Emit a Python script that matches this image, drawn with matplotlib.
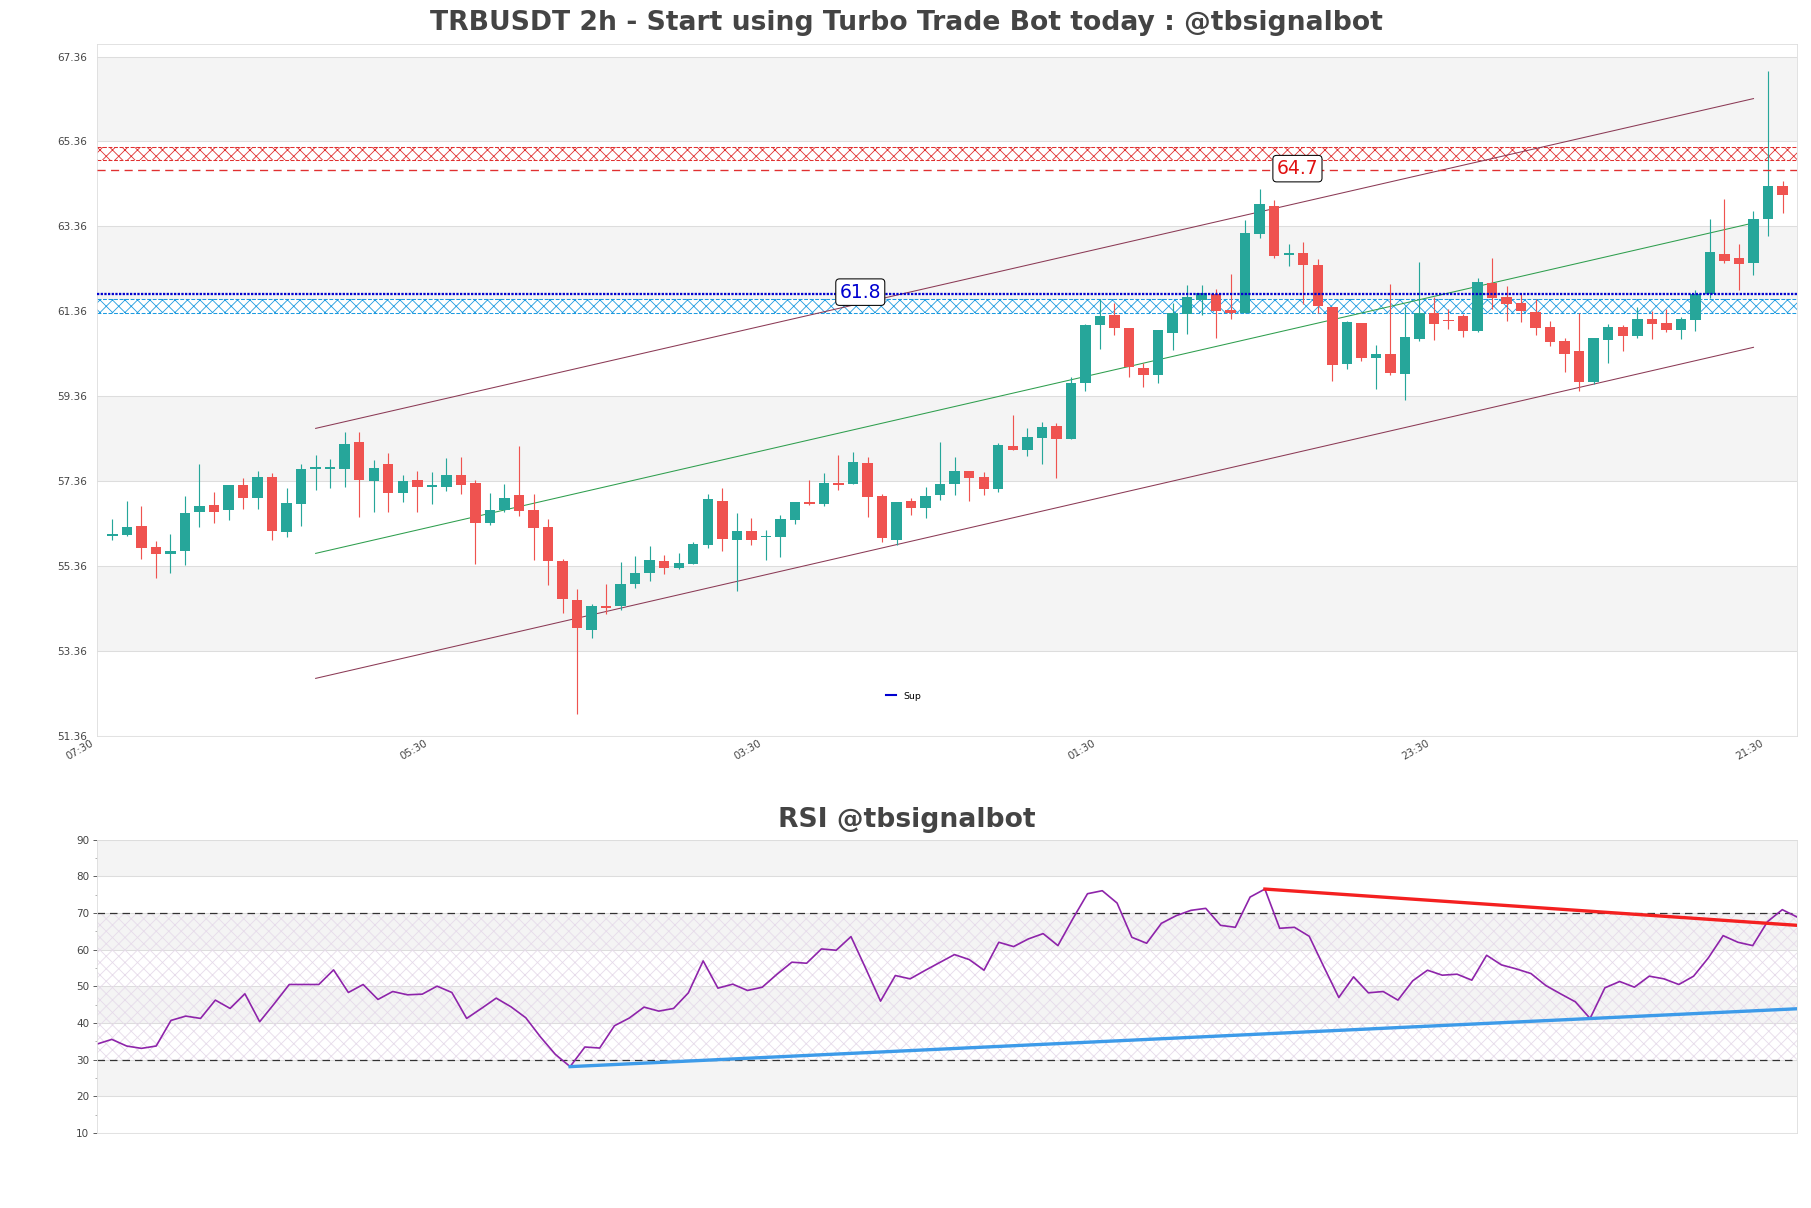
import matplotlib
matplotlib.use("Agg")
import matplotlib.pyplot as plt
import matplotlib.transforms as mtransforms
from matplotlib.lines import Line2D
from matplotlib.ticker import MultipleLocator

# candles, 2h
opens = [56.07, 56.08, 56.30, 55.81, 55.65, 55.70, 56.62, 56.79, 56.67, 57.27,
         56.95, 57.45, 56.15, 56.83, 57.64, 57.65, 57.64, 58.27, 57.35, 57.75,
         57.07, 57.39, 57.21, 57.23, 57.50, 57.31, 56.38, 56.68, 57.03, 56.68,
         56.28, 55.48, 54.56, 53.86, 54.42, 54.42, 54.94, 55.19, 55.47, 55.32,
         55.41, 55.86, 56.89, 55.98, 56.18, 56.03, 56.05, 56.45, 56.87, 56.82,
         57.32, 57.30, 57.79, 57.00, 55.98, 56.88, 56.73, 57.02, 57.28, 57.60,
         57.46, 57.17, 58.19, 58.10, 58.38, 58.66, 58.36, 59.66, 61.03, 61.27,
         60.96, 60.03, 59.86, 60.85, 61.30, 61.63, 61.77, 61.38, 61.31, 63.17,
         63.85, 62.69, 62.74, 62.45, 61.47, 60.12, 61.08, 60.26, 60.35, 59.89,
         60.70, 61.31, 61.16, 61.24, 60.90, 62.02, 61.69, 61.55, 61.34, 60.99,
         60.66, 60.42, 59.70, 60.69, 60.99, 60.77, 61.17, 61.09, 60.91, 61.16,
         61.76, 62.71, 62.62, 62.49, 63.54, 64.31]
highs = [56.47, 56.90, 56.77, 55.94, 56.11, 57.01, 57.75, 57.11, 57.27, 57.42,
         57.60, 57.55, 57.20, 57.75, 57.98, 57.89, 58.52, 58.52, 57.86, 58.01,
         57.50, 57.60, 57.57, 57.90, 57.92, 57.38, 57.08, 57.29, 58.18, 57.05,
         56.47, 55.52, 54.82, 54.47, 54.94, 55.45, 55.60, 55.83, 55.62, 55.67,
         55.92, 57.05, 57.20, 56.61, 56.49, 56.21, 56.55, 56.87, 57.39, 57.54,
         57.98, 58.05, 57.92, 57.06, 56.87, 56.95, 57.21, 58.28, 57.92, 57.60,
         57.58, 58.26, 58.92, 58.61, 58.75, 58.73, 59.81, 61.07, 61.66, 61.56,
         60.96, 60.14, 60.91, 61.55, 61.97, 61.99, 61.89, 62.23, 63.52, 64.23,
         63.97, 62.95, 62.98, 62.58, 61.47, 61.14, 61.08, 60.56, 62.00, 61.46,
         62.51, 61.69, 61.41, 61.30, 62.15, 62.62, 61.95, 61.80, 61.66, 61.12,
         60.72, 61.31, 60.73, 61.06, 61.03, 61.47, 61.37, 61.42, 61.22, 61.85,
         63.54, 64.01, 62.95, 63.73, 67.01, 64.43]
lows = [55.96, 56.07, 55.53, 55.08, 55.20, 55.39, 56.27, 56.38, 56.43, 56.71,
        56.71, 55.98, 56.03, 56.31, 57.16, 57.20, 57.21, 56.51, 56.64, 56.63,
        56.86, 56.63, 56.83, 57.12, 57.06, 55.41, 56.33, 56.64, 56.54, 55.51,
        54.92, 54.24, 51.87, 53.65, 54.22, 54.32, 54.85, 55.01, 55.16, 55.29,
        55.41, 55.79, 55.70, 54.78, 55.86, 55.51, 55.58, 56.35, 56.79, 56.78,
        57.14, 57.30, 56.52, 55.92, 55.85, 56.57, 56.50, 56.92, 57.04, 56.88,
        57.04, 57.11, 58.08, 57.96, 57.77, 57.42, 58.36, 59.47, 60.46, 60.79,
        59.80, 59.58, 59.67, 60.45, 60.83, 61.27, 60.74, 61.18, 61.31, 63.09,
        62.62, 62.43, 61.54, 61.31, 59.71, 60.00, 60.19, 59.53, 59.86, 59.28,
        60.66, 60.68, 60.94, 60.76, 60.88, 61.41, 61.13, 61.11, 60.81, 60.55,
        59.94, 59.49, 59.65, 60.14, 60.43, 60.74, 60.71, 60.86, 60.70, 60.90,
        61.67, 62.50, 61.86, 62.21, 63.13, 63.68]
closes = [56.09, 56.27, 55.79, 55.63, 55.71, 56.61, 56.78, 56.64, 57.27, 56.95,
          57.45, 56.19, 56.85, 57.65, 57.67, 57.67, 58.24, 57.38, 57.67, 57.07,
          57.37, 57.21, 57.27, 57.51, 57.27, 56.38, 56.68, 56.96, 56.66, 56.26,
          55.48, 54.57, 53.89, 54.42, 54.36, 54.94, 55.20, 55.49, 55.32, 55.42,
          55.87, 56.94, 56.00, 56.18, 55.96, 56.07, 56.47, 56.87, 56.81, 57.32,
          57.27, 57.81, 56.99, 56.01, 56.87, 56.73, 57.00, 57.28, 57.60, 57.44,
          57.18, 58.22, 58.08, 58.39, 58.64, 58.36, 59.67, 61.04, 61.25, 60.96,
          60.04, 59.86, 60.91, 61.32, 61.69, 61.80, 61.36, 61.31, 63.20, 63.88,
          62.65, 62.73, 62.45, 61.49, 60.10, 61.10, 60.26, 60.35, 59.91, 60.76,
          61.33, 61.06, 61.12, 60.90, 62.04, 61.67, 61.53, 61.37, 60.97, 60.64,
          60.36, 59.70, 60.73, 60.99, 60.77, 61.17, 61.06, 60.91, 61.17, 61.76,
          62.76, 62.54, 62.47, 63.53, 64.31, 64.09]

rsi = [34.26, 35.53, 33.72, 33.08, 33.72, 40.70, 41.88, 41.25, 46.24, 43.97,
       47.96, 40.34, 45.33, 50.50, 50.50, 50.50, 54.49, 48.32, 50.50, 46.42,
       48.59, 47.69, 47.87, 50.05, 48.32, 41.25, 43.97, 46.78, 44.42, 41.43,
       36.17, 31.45, 28.10, 33.45, 33.17, 39.25, 41.34, 44.33, 43.24, 43.97,
       48.23, 56.94, 49.50, 50.59, 48.87, 49.77, 53.31, 56.58, 56.30, 60.20,
       59.84, 63.56, 54.85, 45.96, 52.95, 52.04, 54.31, 56.49, 58.66, 57.30,
       54.40, 62.02, 60.84, 62.93, 64.38, 61.11, 68.37, 75.26, 76.08, 72.72,
       63.38, 61.75, 67.19, 69.27, 70.73, 71.27, 66.64, 66.10, 74.35, 76.53,
       65.83, 66.10, 63.65, 55.22, 46.96, 52.59, 48.23, 48.59, 46.24, 51.50,
       54.40, 53.04, 53.31, 51.68, 58.48, 55.85, 54.76, 53.49, 50.23, 47.96,
       45.78, 41.25, 49.59, 51.32, 49.77, 52.77, 52.04, 50.50, 52.77, 57.76,
       63.83, 62.02, 61.11, 67.64, 70.91, 68.91]

time_ticks = [-1, 22, 45, 68, 91, 114]
time_labels = ["07:30", "05:30", "03:30", "01:30", "23:30", "21:30"]
price_ticks = [51.36, 53.36, 55.36, 57.36, 59.36, 61.36, 63.36, 65.36, 67.36]
rsi_ticks = [10, 20, 30, 40, 50, 60, 70, 80, 90]

res_zone = [64.92, 65.22]
res_level = 64.69
sup_zone = [61.33, 61.66]
sup_level = 61.77

chan_x = [14, 113]
chan_upper = [58.60, 66.37]
chan_lower = [52.71, 60.51]

rsi_res_x = [79, 115]
rsi_res_y = [76.53, 66.64]
rsi_sup_x = [32, 115]
rsi_sup_y = [28.10, 43.88]

UP = "#26a69a"
DOWN = "#ef5350"
BAND = "#f4f4f4"
GRID = "#dddddd"

plt.rcParams["font.family"] = ["DejaVu Sans"]
plt.rcParams["hatch.linewidth"] = 0.8

fig = plt.figure(figsize=(1811 / 75, 1208 / 75), dpi=75)
ax = fig.add_axes([0.0536, 0.391, 0.9387, 0.5727])
ax2 = fig.add_axes([0.0536, 0.0621, 0.9387, 0.2428])

fig.text(0.5006, 0.981, "TRBUSDT 2h - Start using Turbo Trade Bot today : @tbsignalbot",
         ha="center", va="center", fontsize=25.5, fontweight="bold", color="#444444")
fig.text(0.5006, 0.321, "RSI @tbsignalbot",
         ha="center", va="center", fontsize=25.5, fontweight="bold", color="#444444")

# ---- price panel
n = len(closes)
xs = list(range(n))
ax.set_xlim(-1.05, 116.0)
ax.set_ylim(51.36, 67.66)

for k in range(len(price_ticks) - 1):
    if k % 2 == 1:
        ax.axhspan(price_ticks[k], price_ticks[k + 1], color=BAND, lw=0, zorder=0)
for t in price_ticks:
    ax.axhline(t, color=GRID, lw=1, zorder=0.5)

# zones
ax.axhspan(res_zone[0], res_zone[1], facecolor="white", edgecolor="#e03030",
           hatch="xx", lw=0, zorder=1)
ax.axhspan(sup_zone[0], sup_zone[1], facecolor="white", edgecolor="#1e9be0",
           hatch="xx", lw=0, zorder=1)
for v in res_zone:
    ax.axhline(v, color="#e03030", lw=1, ls="--", zorder=1.2)
for v in sup_zone:
    ax.axhline(v, color="#1e9be0", lw=1, ls="--", zorder=1.2)

# channel
chan_mid = [(a + b) / 2 for a, b in zip(chan_upper, chan_lower)]
ax.plot(chan_x, chan_upper, color="#8b3a55", lw=1, zorder=2)
ax.plot(chan_x, chan_lower, color="#8b3a55", lw=1, zorder=2)
ax.plot(chan_x, chan_mid, color="#2e9e4e", lw=1, zorder=2)

# candles
cols = [UP if c >= o else DOWN for o, c in zip(opens, closes)]
bottoms = [min(o, c) for o, c in zip(opens, closes)]
heights = [max(abs(c - o), 0.04) for o, c in zip(opens, closes)]
ax.vlines(xs, lows, highs, colors=cols, lw=1.1, zorder=3)
ax.bar(xs, heights, bottom=bottoms, width=0.72, color=cols, lw=0, zorder=3.1)

# levels
ax.axhline(res_level, color="#e03030", lw=1.3, ls=(0, (6, 4)), zorder=4)
ax.axhline(sup_level, color="#0000d0", lw=2.2, ls=(0, (1, 0.6)), zorder=4)
box = dict(boxstyle="round,pad=0.2", fc="white", ec="black", lw=1)
ax.text(81.6, res_level + 0.03, f"{res_level:.1f}", color="#e01010", fontsize=18,
        ha="center", va="center", bbox=box, zorder=5)
ax.text(51.5, sup_level + 0.04, f"{sup_level:.1f}", color="#0000d0", fontsize=18,
        ha="center", va="center", bbox=box, zorder=5)

ax.legend([Line2D([0], [0], color="#0000d0", lw=2)], ["Sup"], loc="center",
          bbox_to_anchor=(0.4745, 0.057), frameon=False, fontsize=9,
          handlelength=1.1, handletextpad=0.8)

ax.set_yticks(price_ticks)
ax.set_yticklabels([f"{t:.2f}" for t in price_ticks])
ax.set_xticks(time_ticks)
ax.set_xticklabels(time_labels, rotation=30, ha="right", rotation_mode="anchor")
ax.tick_params(axis="both", length=0, labelsize=10, colors="#444444")
ax.tick_params(axis="y", pad=10)
ax.tick_params(axis="x", pad=2)
# labels sit a bit left of the tick in the original
shift = mtransforms.ScaledTranslation(-8 / 75, 0, fig.dpi_scale_trans)
for lab in ax.get_xticklabels():
    lab.set_transform(lab.get_transform() + shift)
for s in ax.spines.values():
    s.set_color(GRID)

# ---- RSI panel
ax2.set_xlim(0, n - 1)
ax2.set_ylim(10, 90)
for lo in [20, 40, 60, 80]:
    ax2.axhspan(lo, lo + 10, color=BAND, lw=0, zorder=0)
for t in rsi_ticks:
    ax2.axhline(t, color=GRID, lw=1, zorder=0.5)
ax2.axhspan(30, 70, facecolor="none", edgecolor="#e6dbea", hatch="xx", lw=0, zorder=0.6)
ax2.axhline(70, color="#333333", lw=1.2, ls=(0, (6, 4)), zorder=1)
ax2.axhline(30, color="#333333", lw=1.2, ls=(0, (6, 4)), zorder=1)
ax2.plot(xs, rsi, color="#8e24aa", lw=1.6, zorder=2)
ax2.plot(rsi_res_x, rsi_res_y, color="#f42020", lw=3.2, zorder=3)
ax2.plot(rsi_sup_x, rsi_sup_y, color="#3d9be9", lw=3.2, zorder=3)

ax2.set_yticks(rsi_ticks)
ax2.yaxis.set_minor_locator(MultipleLocator(5))
ax2.set_xticks([])
ax2.tick_params(axis="y", which="major", length=4, labelsize=10, colors="#444444")
ax2.tick_params(axis="y", which="minor", length=2, colors="#888888")
for s in ax2.spines.values():
    s.set_color(GRID)

fig.savefig("out.png", dpi=75)
